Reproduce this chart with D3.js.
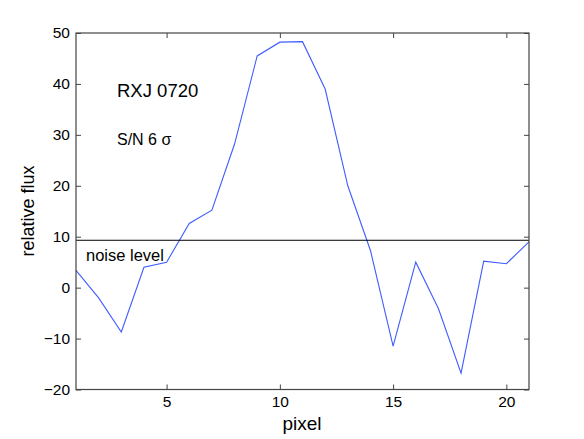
<!DOCTYPE html>
<html>
<head>
<meta charset="utf-8">
<script src="https://cdn.jsdelivr.net/npm/d3@7"></script>
<style>
  body { margin:0; background:#fff; }
  text { font-family: "Liberation Sans", Arial, sans-serif; fill:#000; }
</style>
</head>
<body>
<svg id="board" width="584" height="439"></svg>
<script>
// data
var pixels = [1,2,3,4,5,6,7,8,9,10,11,12,13,14,15,16,17,18,19,20,21];
var flux   = [3.4,-2.0,-8.7,4.0,5.0,12.6,15.2,28.2,45.5,48.2,48.3,39.0,20.0,7.3,-11.5,5.0,-4.1,-16.8,5.2,4.7,9.0];
var noiseLevel = 9.3;
var xTicks = [5,10,15,20];
var yTicks = [-20,-10,0,10,20,30,40,50];

var board = d3.select("#board");
var mLeft = 76, mRight = 529, mTop = 33, mBottom = 389.5;

var x = d3.scaleLinear().domain([1,21]).range([mLeft,mRight]);
var y = d3.scaleLinear().domain([-20,50]).range([mBottom,mTop]);

// data line
var line = d3.line()
      .x(function(d,i){ return x(pixels[i]); })
      .y(function(d){ return y(d); });

board.append("path")
      .datum(flux)
      .attr("d",line)
      .attr("fill","none")
      .attr("stroke","#3f5cff")
      .attr("stroke-width",1.1);

// noise level line
board.append("line")
      .attr("x1",x(1)).attr("x2",x(21))
      .attr("y1",y(noiseLevel)).attr("y2",y(noiseLevel))
      .attr("stroke","#000")
      .attr("stroke-width",1);

// axes (ticks inward, box)
var tl = 5;
var gb = board.append("g").attr("transform","translate(0,"+mBottom+")")
      .call(d3.axisBottom(x).tickValues(xTicks).tickSizeInner(-tl).tickSizeOuter(0).tickPadding(6));
var gt = board.append("g").attr("transform","translate(0,"+mTop+")")
      .call(d3.axisTop(x).tickValues(xTicks).tickSizeInner(-tl).tickSizeOuter(0).tickFormat(""));
var gl = board.append("g").attr("transform","translate("+mLeft+",0)")
      .call(d3.axisLeft(y).tickValues(yTicks).tickSizeInner(-tl).tickSizeOuter(0).tickPadding(6).tickFormat(function(d){ return d<0 ? "\u2212"+Math.abs(d) : d; }));
var gr = board.append("g").attr("transform","translate("+mRight+",0)")
      .call(d3.axisRight(y).tickValues(yTicks).tickSizeInner(-tl).tickSizeOuter(0).tickFormat(""));

[gb,gt,gl,gr].forEach(function(g){
  g.select(".domain").remove();
  g.selectAll(".tick line").attr("stroke","#444");
  g.selectAll("text").style("font-size","15.5px").style("font-family","'Liberation Sans', Arial, sans-serif").attr("fill","#000");
});

board.append("rect")
      .attr("x",mLeft).attr("y",mTop)
      .attr("width",mRight-mLeft).attr("height",mBottom-mTop)
      .attr("fill","none")
      .attr("stroke","#444")
      .attr("stroke-width",1.2);

// labels
board.append("text")
      .attr("x",302).attr("y",430)
      .attr("text-anchor","middle")
      .style("font-size","19px")
      .text("pixel");

board.append("text")
      .attr("transform","translate(34,211) rotate(-90)")
      .attr("text-anchor","middle")
      .style("font-size","18px")
      .text("relative flux");

board.append("text")
      .attr("x",117).attr("y",97)
      .style("font-size","18.5px")
      .text("RXJ 0720");

board.append("text")
      .attr("x",117).attr("y",145)
      .style("font-size","16px")
      .text("S/N 6 \u03c3");

board.append("text")
      .attr("x",86).attr("y",260.5)
      .style("font-size","16.5px")
      .text("noise level");
</script>
</body>
</html>
